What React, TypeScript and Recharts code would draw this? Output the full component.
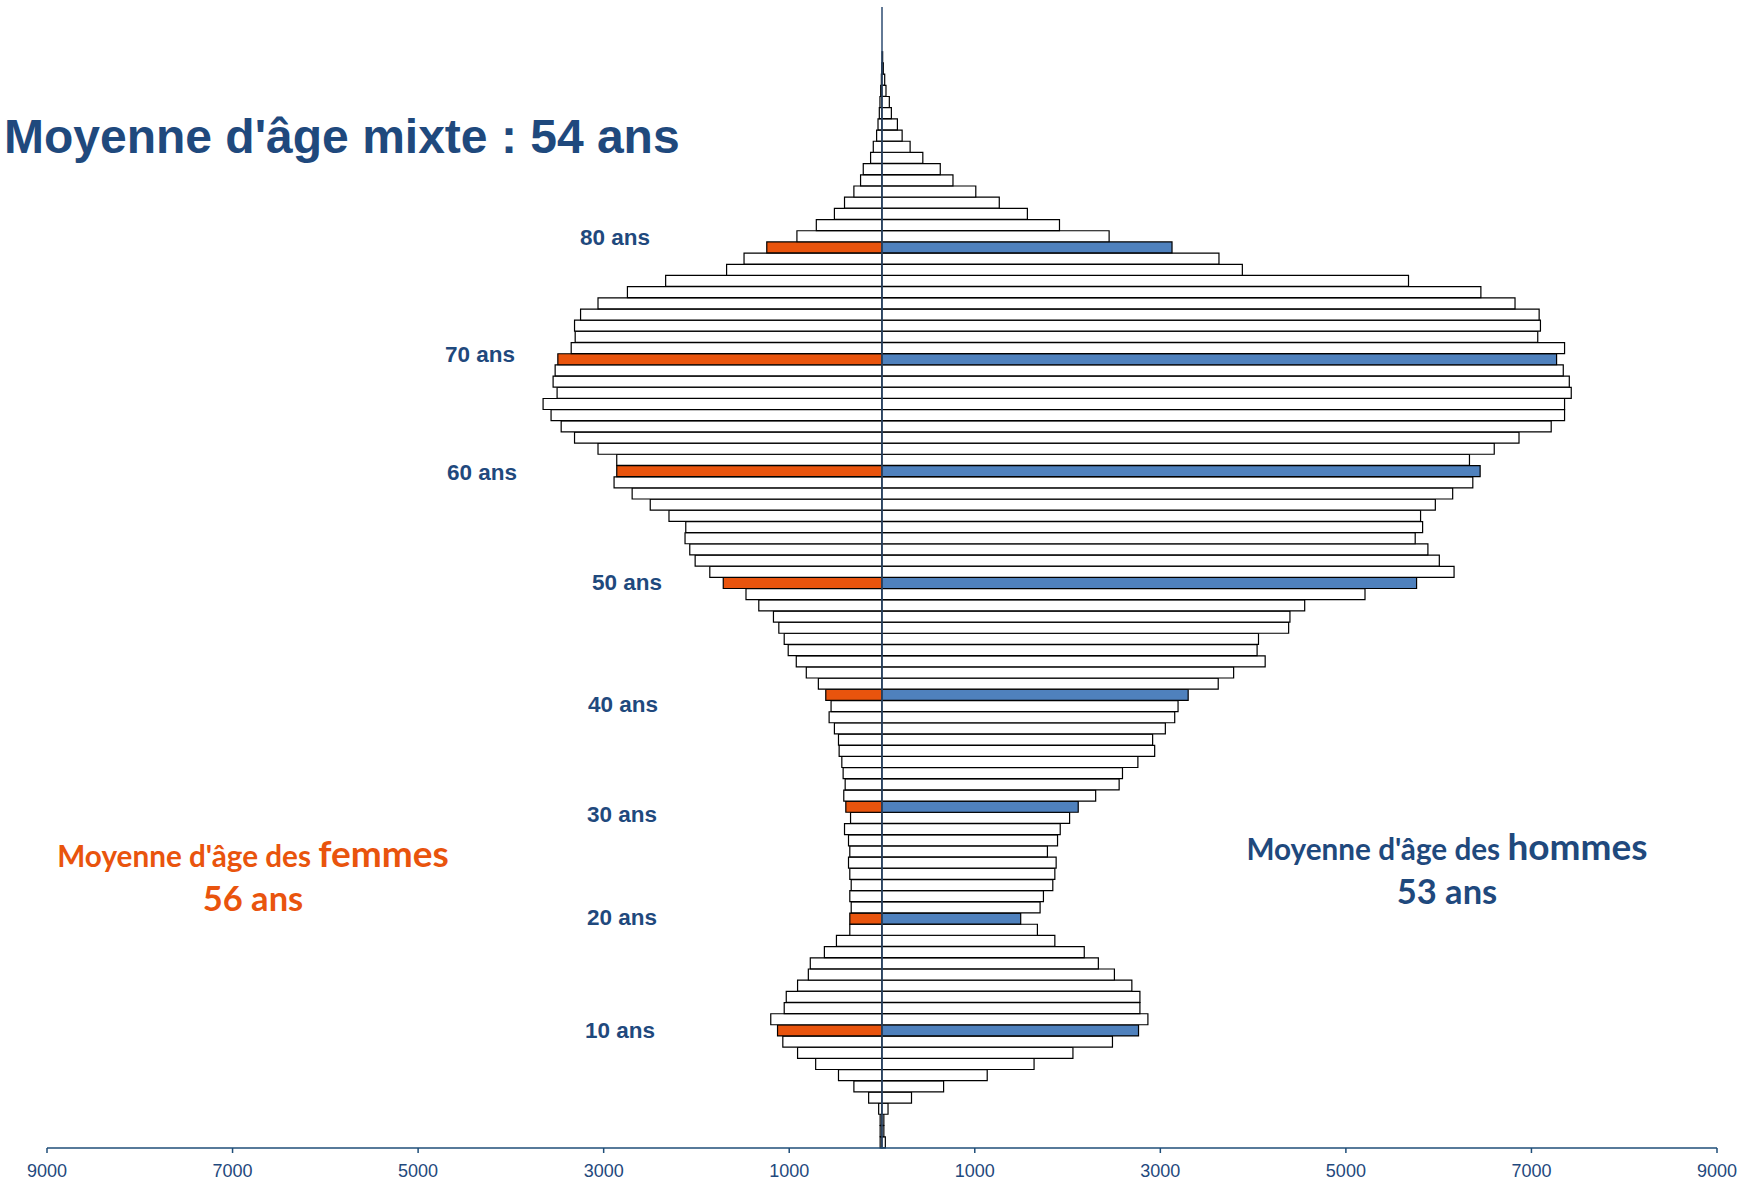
import { BarChart, Bar, XAxis, YAxis, Cell, ReferenceLine } from "recharts";

// age 0 .. 101, bottom to top
const ages = Array.from({ length: 102 }, (_, i) => i);

const femmes = [
  20, 20, 20, 36, 144, 303, 469, 715, 910, 1069,
  1126, 1199, 1054, 1032, 910, 794, 773, 621, 491, 347,
  347, 332, 347, 332, 347, 361, 347, 361, 404, 339,
  390, 412, 397, 419, 433, 462, 469, 513, 570, 549,
  606, 686, 816, 924, 1011, 1054, 1112, 1170, 1328, 1466,
  1711, 1856, 2014, 2072, 2123, 2115, 2296, 2498, 2693, 2888,
  2859, 2859, 3061, 3314, 3458, 3567, 3653, 3502, 3545, 3523,
  3494, 3350, 3307, 3314, 3249, 3061, 2744, 2332, 1675, 1487,
  1242, 917, 708, 513, 404, 303, 231, 202, 123, 94,
  58, 43, 29, 22, 14, 7, 3, 0, 0, 0,
  0, 0,
];

const hommes = [
  36, 20, 20, 65, 318, 664, 1134, 1639, 2058, 2484,
  2765, 2866, 2780, 2780, 2693, 2505, 2332, 2180, 1863, 1675,
  1495, 1704, 1740, 1841, 1863, 1877, 1783, 1892, 1921, 2022,
  2115, 2303, 2556, 2592, 2758, 2939, 2917, 3054, 3155, 3191,
  3300, 3624, 3790, 4130, 4043, 4058, 4383, 4397, 4556, 5206,
  5762, 6166, 6007, 5884, 5747, 5827, 5805, 5964, 6151, 6368,
  6447, 6332, 6599, 6866, 7213, 7357, 7357, 7429, 7408, 7343,
  7271, 7357, 7068, 7097, 7083, 6823, 6455, 5675, 3884, 3632,
  3126, 2448, 1913, 1567, 1264, 1011, 765, 628, 440, 303,
  217, 166, 101, 79, 43, 29, 14, 7, 0, 0,
  0, 0,
];

const highlighted = [10, 20, 30, 40, 50, 60, 70, 80];
const xTicks = [-9000, -7000, -5000, -3000, -1000, 1000, 3000, 5000, 7000, 9000];

// where each "NN ans" label sits (left x, vertical shift from the bar centre)
const labelPos: Record<number, { x: number; dy: number }> = {
  80: { x: 580, dy: -11 },
  70: { x: 445, dy: -5.5 },
  60: { x: 447, dy: 1 },
  50: { x: 592, dy: -1 },
  40: { x: 588, dy: 9 },
  30: { x: 587, dy: 7.5 },
  20: { x: 587, dy: -2 },
  10: { x: 585, dy: -0.5 },
};

const BLUE = "#1F497D";
const ORANGE = "#E9540D";

const data = ages.map((age, i) => ({
  age,
  femmes: -femmes[i],
  hommes: hommes[i],
}));

function AgeTick(props: any) {
  const age = Number(props.payload?.value);
  const pos = labelPos[age];
  if (!pos) return <g />;
  return (
    <text
      x={pos.x}
      y={props.y + pos.dy + 8}
      fill={BLUE}
      fontSize={22.5}
      fontWeight="bold"
      fontFamily="'Liberation Sans', Arial, sans-serif"
    >
      {age} ans
    </text>
  );
}

export default function App() {
  return (
    <div style={{ position: "relative", width: 1752, height: 1184 }}>
      <style>{`body { margin: 0; }`}</style>
      <BarChart
        width={1752}
        height={1184}
        data={data}
        layout="vertical"
        stackOffset="sign"
        barCategoryGap={0}
        margin={{ top: 7, right: 35, left: 46, bottom: 6 }}
      >
        <XAxis
          type="number"
          domain={[-9000, 9000]}
          ticks={xTicks}
          tickFormatter={(v) => String(Math.abs(v))}
          stroke="#1F4E79"
          strokeWidth={1.5}
          tickSize={5}
          tickMargin={11}
          height={30}
          tick={{ fill: BLUE, fontSize: 18, fontFamily: "'Liberation Sans', Arial, sans-serif" }}
        />
        <YAxis
          type="category"
          dataKey="age"
          reversed
          width={1}
          interval={0}
          axisLine={false}
          tickLine={false}
          tick={<AgeTick />}
        />
        <Bar dataKey="femmes" stackId="a" stroke="#000" strokeWidth={1.2} isAnimationActive={false}>
          {data.map((d) => (
            <Cell key={d.age} fill={highlighted.includes(d.age) ? ORANGE : "#fff"} />
          ))}
        </Bar>
        <Bar dataKey="hommes" stackId="a" stroke="#000" strokeWidth={1.2} isAnimationActive={false}>
          {data.map((d) => (
            <Cell key={d.age} fill={highlighted.includes(d.age) ? "#4F81BD" : "#fff"} />
          ))}
        </Bar>
        <ReferenceLine x={0} stroke="#2E4C72" strokeWidth={1.5} />
      </BarChart>
      <svg
        width={1752}
        height={1184}
        style={{ position: "absolute", left: 0, top: 0, pointerEvents: "none" }}
      >
        <text
          x={4}
          y={153}
          fill={BLUE}
          fontSize={48}
          fontWeight="bold"
          fontFamily="'Liberation Sans', Arial, sans-serif"
        >
          Moyenne d'âge mixte : 54 ans
        </text>
        <g fontFamily="Lato, 'Open Sans', sans-serif" fontWeight="bold" textAnchor="middle">
          <text x={253} y={867} fill={ORANGE}>
            <tspan fontSize={29.7}>Moyenne d'âge des </tspan>
            <tspan fontSize={37}>femmes</tspan>
          </text>
          <text x={253} y={911} fill={ORANGE} fontSize={34.5}>
            56 ans
          </text>
          <text x={1447} y={860} fill={BLUE}>
            <tspan fontSize={29.7}>Moyenne d'âge des </tspan>
            <tspan fontSize={37}>hommes</tspan>
          </text>
          <text x={1447} y={904} fill={BLUE} fontSize={34.5}>
            53 ans
          </text>
        </g>
      </svg>
    </div>
  );
}
